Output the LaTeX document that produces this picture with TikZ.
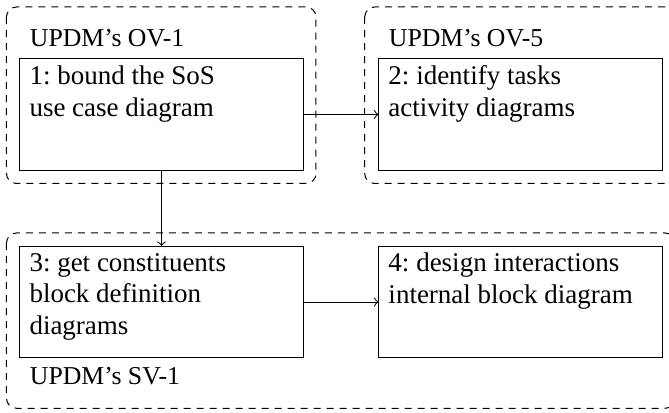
\documentclass[tikz,border=0pt]{standalone}
\usepackage{fontspec}
\setmainfont{Liberation Serif}
% Step boxes keep their text at the top left
\newcommand\steptext[1]{\parbox[t][39.0pt][t]{105.6pt}{\frenchspacing #1}}
\begin{document}
\begin{tikzpicture}[x=0.4pt,y=-0.4pt,
  font=\fontsize{10.8}{12.7}\selectfont,
  stepbox/.style={draw, anchor=north west, inner xsep=3.8pt, inner ysep=2.7pt,
    minimum width=113.2pt, minimum height=44.4pt},
  tag/.style={inner sep=0pt, anchor=base west, font=\fontsize{10.3}{12.7}\selectfont},
  group/.style={dash pattern=on 2.8pt off 2.4pt, rounded corners=4pt},
  flow/.style={->}]
\useasboundingbox (0,0) rectangle (669,413);

% view groups
\draw[group] (6.5,7) rectangle (316,183.5);
\draw[group] (364.7,7) rectangle (675,183.5);
\draw[group] (6.5,233) rectangle (675,408.3);

% view names
\node[tag] (t1) at (29.5,46.7) {UPDM’s OV-1};
\node[tag] (t2) at (388.5,46.7) {UPDM’s OV-5};
\node[tag] (t3) at (29.5,384.3) {UPDM’s SV-1};

% steps
\node[stepbox] (b1) at (19.5,58.5) {\steptext{1: bound the SoS\\use case diagram}};
\node[stepbox] (b2) at (378.5,58.5) {\steptext{2: identify tasks\\activity diagrams}};
\node[stepbox] (b3) at (19.5,246) {\steptext{3: get constituents\\block definition\\diagrams}};
\node[stepbox] (b4) at (378.5,246) {\steptext{4: design interactions\\internal block diagram}};

% flow between steps
\draw[flow] (b1.east) -- (b2.west);
\draw[flow] (b1.south) -- (b3.north);
\draw[flow] (b3.east) -- (b4.west);
\end{tikzpicture}
\end{document}
